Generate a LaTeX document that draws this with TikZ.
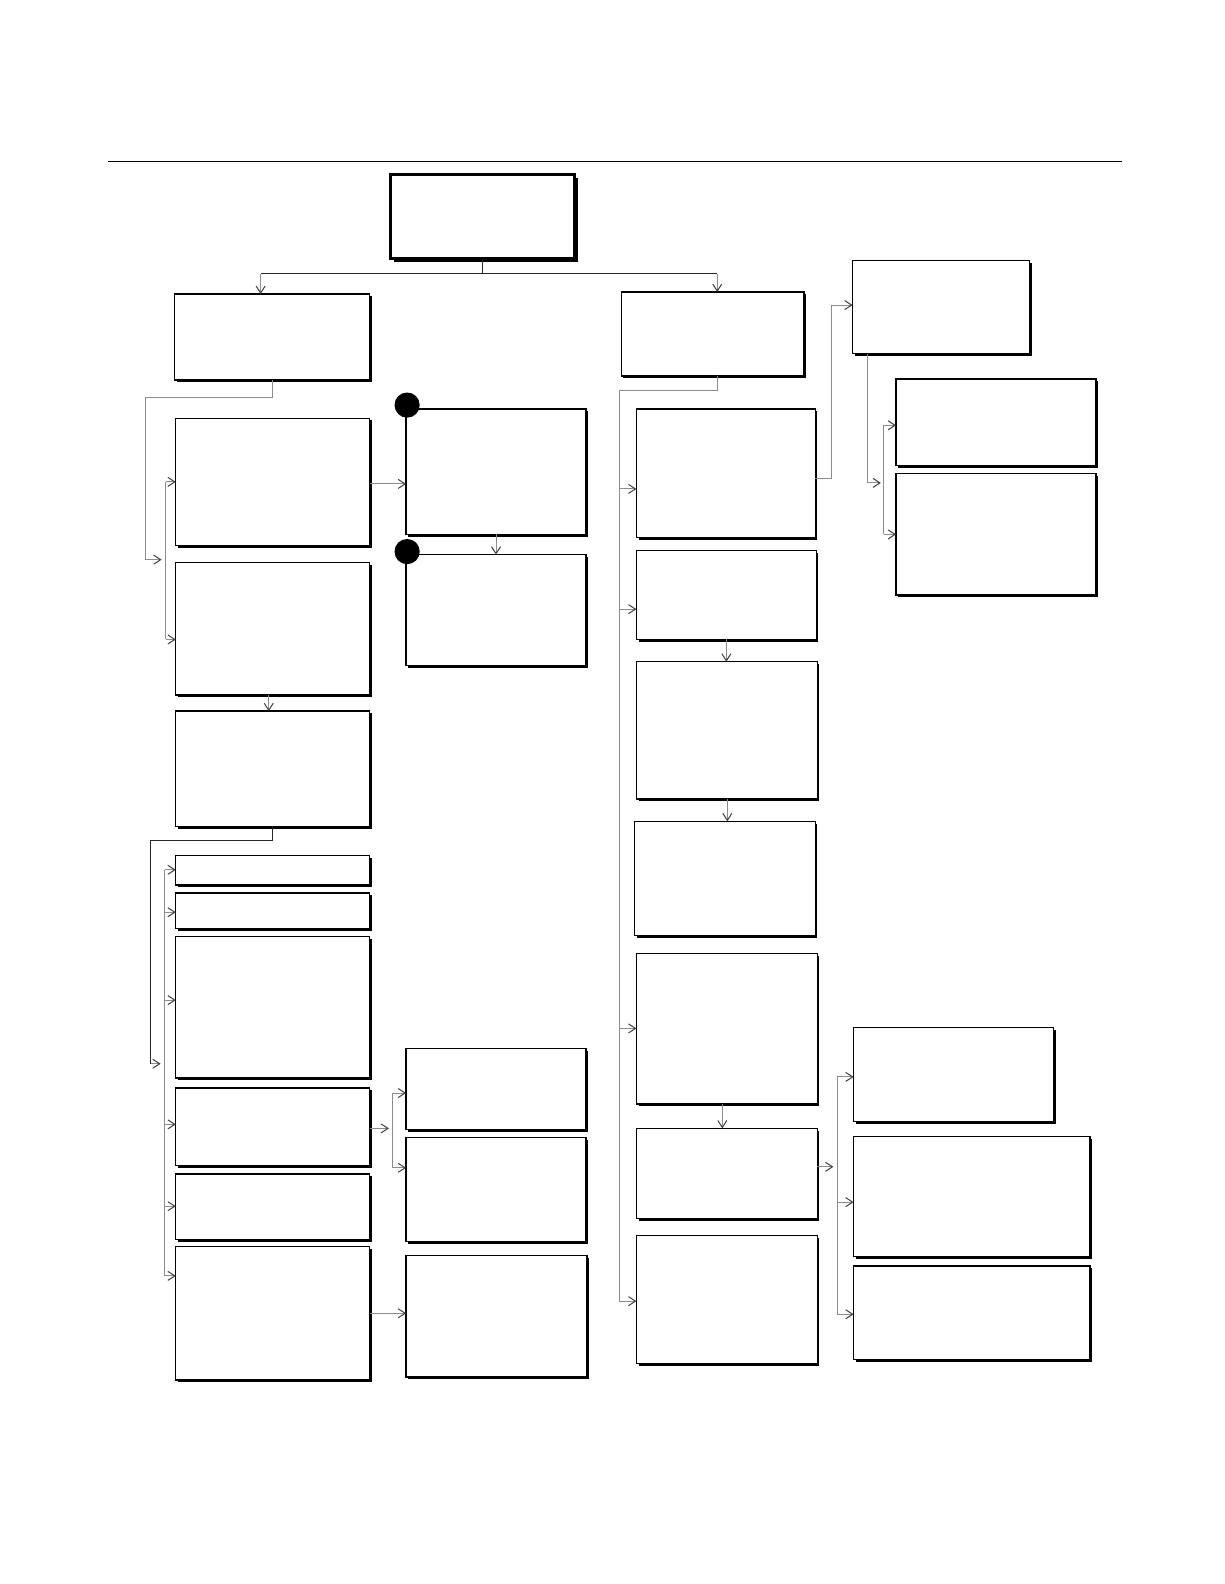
\documentclass[tikz,border=0pt]{standalone}
\usetikzlibrary{arrows.meta,shadows,fit,calc}
\begin{document}
\begin{tikzpicture}[x=0.505pt,y=-0.505pt,
  box/.style={draw, line width=0.7pt, fill=white, inner sep=0pt, outer sep=0pt,
    drop shadow={shadow xshift=1.1pt, shadow yshift=-1.1pt, fill=black, opacity=1}},
  topbox/.style={draw, line width=1.5pt, fill=white, inner sep=0pt, outer sep=0pt,
    drop shadow={shadow xshift=1.6pt, shadow yshift=-1.6pt, fill=black, opacity=1}},
  dot/.style={circle, fill=black, inner sep=0pt, minimum size=12.6pt},
  link/.style={draw=black!45, line width=0.5pt},
  darklink/.style={draw=black!85, line width=0.5pt},
  arr/.style={link, -{Straight Barb[length=3.5pt,width=4.5pt,line width=0.5pt,color=black!75]}}
]
\fill[white] (0,0) rectangle (1212,1568);
\useasboundingbox (0,0) rectangle (1212,1568);
\coordinate (r1) at (107,160);
\coordinate (r2) at (1111,160);
\draw[line width=0.6pt] (r1) -- (r2);

% boxes
\node[topbox, fit={(387,173) (569,256)}] (T) {};
\node[box, fit={(173,291) (366,376)}] (A) {};
\node[box, fit={(615,289) (796,372)}] (B) {};
\node[box, fit={(174,414) (366,540)}] (C1) {};
\node[box, fit={(174,557) (366,688)}] (C2) {};
\node[box, fit={(174,704) (366,818)}] (C3) {};
\node[box, fit={(174,847) (366,876)}] (D1) {};
\node[box, fit={(174,884) (366,919)}] (D2) {};
\node[box, fit={(174,927) (366,1067)}] (D3) {};
\node[box, fit={(174,1077) (366,1154)}] (D4) {};
\node[box, fit={(174,1162) (366,1227)}] (D5) {};
\node[box, fit={(174,1234) (366,1366)}] (D6) {};
\node[box, fit={(402,405) (580,529)}] (E1) {};
\node[box, fit={(402,549) (580,659)}] (E2) {};
\node[box, fit={(402,1038) (580,1118)}] (F1) {};
\node[box, fit={(402,1126) (580,1229)}] (F2) {};
\node[box, fit={(402,1243) (581,1363)}] (F3) {};
\node[box, fit={(630,405) (807,532)}] (G1) {};
\node[box, fit={(630,545) (808,633)}] (G2) {};
\node[box, fit={(630,655) (809,791)}] (G3) {};
\node[box, fit={(628,813) (807,926)}] (G4) {};
\node[box, fit={(630,944) (809,1093)}] (G5) {};
\node[box, fit={(630,1117) (809,1206)}] (G6) {};
\node[box, fit={(630,1223) (809,1350)}] (G7) {};
\node[box, fit={(844,258) (1019,350)}] (H) {};
\node[box, fit={(887,375) (1085,461)}] (I1) {};
\node[box, fit={(887,469) (1085,589)}] (I2) {};
\node[box, fit={(845,1017) (1043,1110)}] (J1) {};
\node[box, fit={(845,1125) (1079,1244)}] (J2) {};
\node[box, fit={(845,1253) (1079,1346)}] (J3) {};

\node[dot] (k1) at (403,401) {};
\node[dot] (k2) at (403,546) {};

% top split
\coordinate (tL) at (258,271);
\coordinate (tR) at (710,271);
\draw[darklink] (T.south) -- (T.south |- tL);
\draw[darklink] (tL) -- (tR);
\draw[arr] (tL) -- (tL |- A.north);
\draw[arr] (tR) -- (tR |- B.north);

% A -> C bracket
\coordinate (a2) at (144,554);
\draw[link] (A.south) -- ++(0,17) -| (a2);
\draw[arr] (a2) -- ++(16,0);
\coordinate (cb1) at (164,477);
\coordinate (cb2) at (164,633);
\draw[link] (cb1) -- (cb2);
\draw[arr] (cb1) -- (cb1 -| C1.west);
\draw[arr] (cb2) -- (cb2 -| C2.west);

% C1 -> E1 -> E2
\draw[arr] (C1.east |- 0,479) -- (E1.west |- 0,479);
\draw[arr] (E1.south) -- (E2.north);

% C2 -> C3
\draw[arr] (C2.south -| 266,0) -- (C3.north -| 266,0);

% C3 -> D bracket
\coordinate (c3b) at (149,1053);
\draw[darklink] (C3.south) -- ++(0,14) -| (c3b);
\draw[arr] (c3b) -- ++(10,0);
\coordinate (db1) at (163,861);
\coordinate (db2) at (163,903);
\coordinate (db3) at (163,990);
\coordinate (db4) at (163,1113);
\coordinate (db5) at (163,1194);
\coordinate (db6) at (163,1263);
\draw[link] (db1) -- (db6);
\draw[arr] (db1) -- (db1 -| D1.west);
\draw[arr] (db2) -- (db2 -| D2.west);
\draw[arr] (db3) -- (db3 -| D3.west);
\draw[arr] (db4) -- (db4 -| D4.west);
\draw[arr] (db5) -- (db5 -| D5.west);
\draw[arr] (db6) -- (db6 -| D6.west);

% D4 -> F bracket
\coordinate (f0) at (385,1117);
\draw[arr] (D4.east |- f0) -- (f0);
\coordinate (fb1) at (389,1082);
\coordinate (fb2) at (389,1156);
\draw[link] (fb1) -- (fb2);
\draw[arr] (fb1) -- (fb1 -| F1.west);
\draw[arr] (fb2) -- (fb2 -| F2.west);

% D6 -> F3
\draw[arr] (D6.east |- 0,1300) -- (F3.west |- 0,1300);

% B -> G bracket
\coordinate (gb0) at (710,387);
\coordinate (gb) at (613,387);
\coordinate (gb1) at (613,484);
\coordinate (gb2) at (613,603);
\coordinate (gb5) at (613,1018);
\coordinate (gb7) at (613,1288);
\draw[link] (B.south -| gb0) -- (gb0) -- (gb) -- (gb7);
\draw[arr] (gb1) -- (gb1 -| G1.west);
\draw[arr] (gb2) -- (gb2 -| G2.west);
\draw[arr] (gb5) -- (gb5 -| G5.west);
\draw[arr] (gb7) -- (gb7 -| G7.west);

% vertical G links
\draw[arr] (G2.south -| 719,0) -- (G3.north -| 719,0);
\draw[arr] (G3.south -| 720,0) -- (G4.north -| 720,0);
\draw[arr] (G5.south -| 715,0) -- (G6.north -| 715,0);

% G1 -> H
\coordinate (h1) at (823,474);
\coordinate (h2) at (823,302);
\draw[link] (G1.east |- h1) -- (h1) -- (h2);
\draw[arr] (h2) -- (h2 -| H.west);

% H -> I bracket
\coordinate (hi) at (859,478);
\draw[link] (H.south -| hi) -- (hi);
\draw[arr] (hi) -- ++(13,0);
\coordinate (ib1) at (875,421);
\coordinate (ib2) at (875,529);
\draw[link] (ib1) -- (ib2);
\draw[arr] (ib1) -- (ib1 -| I1.west);
\draw[arr] (ib2) -- (ib2 -| I2.west);

% G6 -> J bracket
\coordinate (g6) at (825,1155);
\draw[arr] (G6.east |- g6) -- (g6);
\coordinate (jb1) at (829,1066);
\coordinate (jb2) at (829,1190);
\coordinate (jb3) at (829,1301);
\draw[link] (jb1) -- (jb3);
\draw[arr] (jb1) -- (jb1 -| J1.west);
\draw[arr] (jb2) -- (jb2 -| J2.west);
\draw[arr] (jb3) -- (jb3 -| J3.west);
\end{tikzpicture}
\end{document}
